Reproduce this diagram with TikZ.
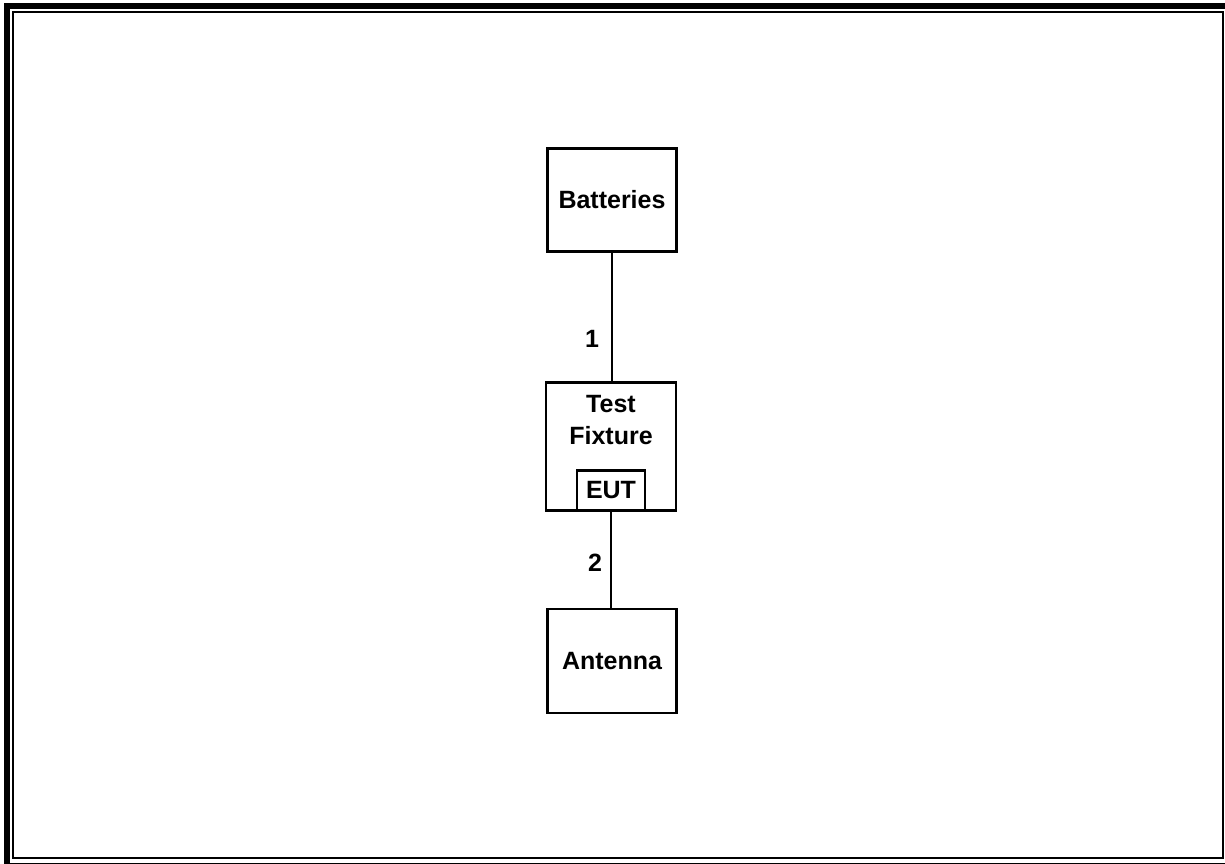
\documentclass[tikz,border=0pt]{standalone}
\usepackage{fontspec}
\setsansfont{Liberation Sans}
\usetikzlibrary{positioning}
\definecolor{ink}{HTML}{000000}
\tikzset{
  font=\sffamily\bfseries\fontsize{25}{32}\selectfont,
  %
  unit/.style={draw=ink, line width=2.2pt, fill=white, inner sep=0pt,
               align=center, text=ink, minimum width=129pt, minimum height=103pt},
  dut/.style={unit, minimum width=68pt, minimum height=40pt},
  %
  cable/.style={draw=ink, line width=2.2pt},
  lbl/.style={text=ink, inner sep=1pt},
  %
  frameout/.style={draw=ink, line width=6pt},
  framein/.style={draw=ink, line width=2pt},
}
\begin{document}
\begin{tikzpicture}[x=1pt, y=-1pt]
  \useasboundingbox (0,0) rectangle (1225,863);

  % page frame
  \draw[frameout] (7,6) rectangle (1231,866);
  \draw[framein] (13,12) rectangle (1223,858);

  % setup
  \node[unit] (bat) at (612,200) {Batteries};
  \node[unit, minimum width=130pt, minimum height=128pt] (fix) at (611,446.5) {};
  \node[lbl, align=center, anchor=north] (fixtxt) at ([yshift=-13pt]fix.north) {Test\\Fixture};
  \node[dut, anchor=south] (eut) at (fix.south) {EUT};
  \node[unit, minimum height=104pt] (ant) at (612,661) {Antenna};

  % cables
  \draw[cable] (bat.south) -- (bat.south |- fix.north);
  \draw[cable] (eut.south) -- (eut.south |- ant.north);
  \node[lbl] (c1) at (592,339) {1};
  \node[lbl] (c2) at (595,563) {2};
\end{tikzpicture}
\end{document}
